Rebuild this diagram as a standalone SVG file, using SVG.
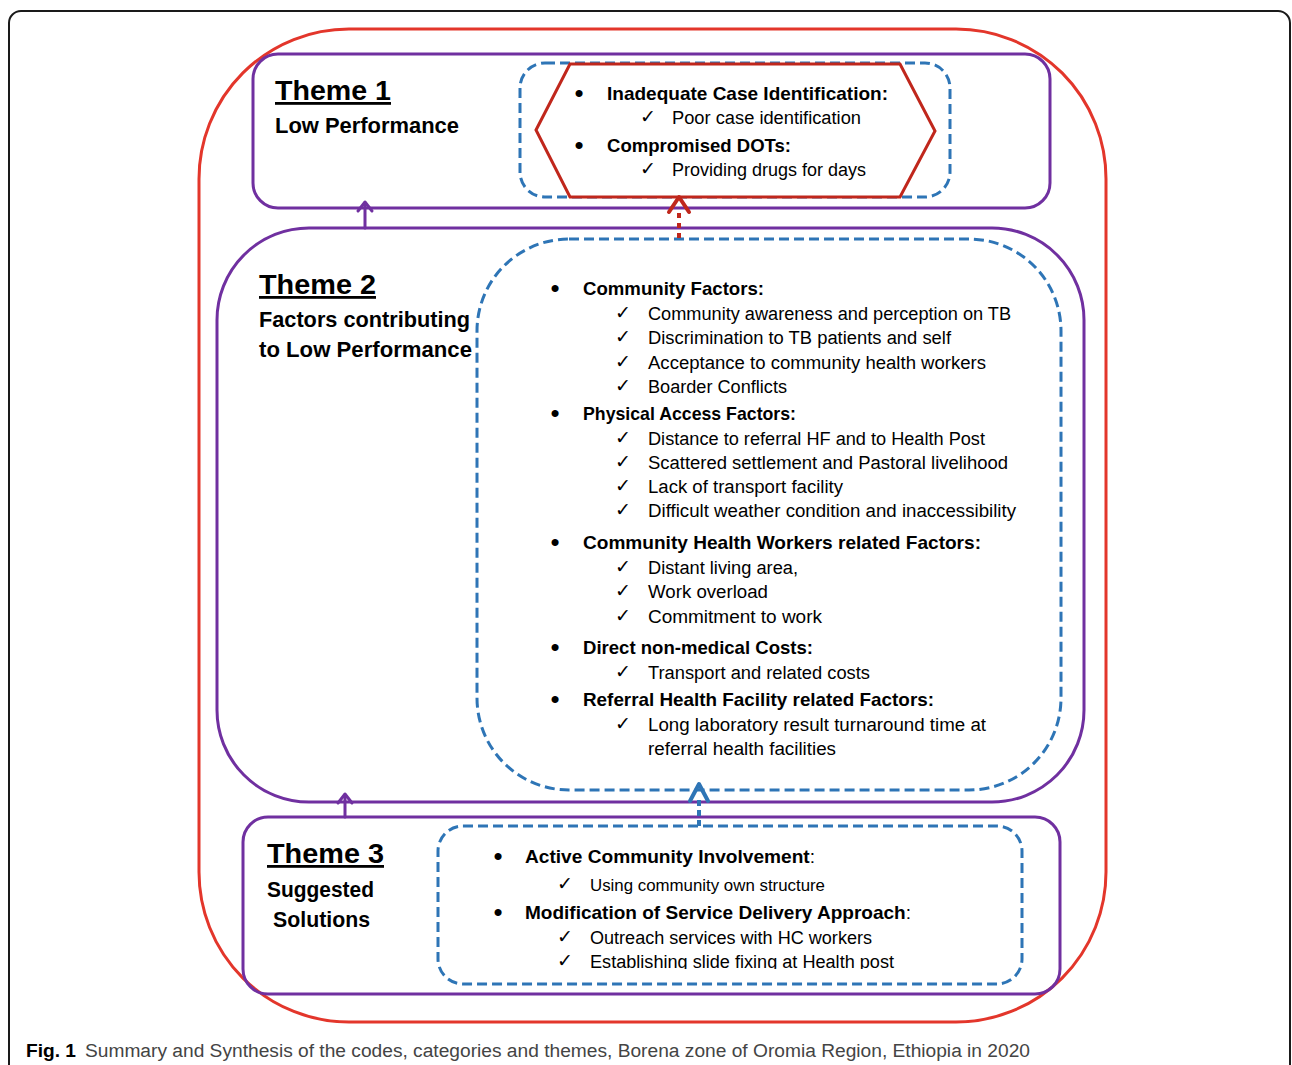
<svg xmlns="http://www.w3.org/2000/svg" width="1292" height="1065" viewBox="0 0 1292 1065">
<style>
.b{font-family:"Liberation Sans",Arial,sans-serif;font-weight:bold;fill:#000}
.r{font-family:"Liberation Sans",Arial,sans-serif;fill:#000}
.ttl{font-size:28px;text-decoration:underline}
.sub{font-size:22px}
.h{font-size:19px}
.i{font-size:18px}
.s{font-size:16.5px}
.ck{font-family:"DejaVu Sans",sans-serif;font-size:19px;fill:#000}
.bl{font-family:"Liberation Sans",Arial,sans-serif;font-size:26px;text-anchor:middle;fill:#000}
.pur{fill:none;stroke:#7030A0;stroke-width:3}
.blu{fill:none;stroke:#2E75B6;stroke-width:3;stroke-dasharray:10 5}
.cap{font-family:"Liberation Sans",Arial,sans-serif;font-size:18px;fill:#444}
</style>
<defs>
<clipPath id="clipT3"><rect x="0" y="0" width="1292" height="969"/></clipPath>
</defs>
<rect width="1292" height="1065" fill="#fff"/>
<rect x="9" y="11" width="1281" height="1100" rx="12" fill="none" stroke="#1a1a1a" stroke-width="2"/>
<g id="outer">
<rect x="199" y="29" width="907" height="993" rx="150" fill="none" stroke="#E3362B" stroke-width="3"/>
</g>
<g id="theme1">
<rect class="pur" x="253" y="54" width="797" height="154" rx="25"/>
<text class="b ttl" x="275" y="100" textLength="116" lengthAdjust="spacingAndGlyphs">Theme 1</text>
<text class="b sub" x="275" y="133" textLength="184" lengthAdjust="spacingAndGlyphs">Low Performance</text>
</g>
<g id="theme1-items">
<rect class="blu" x="520" y="63" width="430" height="134" rx="25"/>
<polygon points="536,130 570,64 900,64 935,131 900,197 570,197" fill="#fff" stroke="#C0271C" stroke-width="3"/>
<text class="bl" x="579" y="102">•</text>
<text class="b h" x="607" y="100" textLength="281" lengthAdjust="spacingAndGlyphs">Inadequate Case Identification:</text>
<text class="ck" x="640" y="123">✓</text>
<text class="r i" x="672" y="124" textLength="189" lengthAdjust="spacingAndGlyphs">Poor case identification</text>
<text class="bl" x="579" y="154">•</text>
<text class="b h" x="607" y="152" textLength="184" lengthAdjust="spacingAndGlyphs">Compromised DOTs:</text>
<text class="ck" x="640" y="175">✓</text>
<text class="r i" x="672" y="176" textLength="194" lengthAdjust="spacingAndGlyphs">Providing drugs for days</text>
</g>
<g id="theme2">
<rect class="pur" x="217" y="228" width="867" height="574" rx="92"/>
<text class="b ttl" x="259" y="294" textLength="117" lengthAdjust="spacingAndGlyphs">Theme 2</text>
<text class="b sub" x="259" y="327" textLength="211" lengthAdjust="spacingAndGlyphs">Factors contributing</text>
<text class="b sub" x="259" y="357" textLength="213" lengthAdjust="spacingAndGlyphs">to Low Performance</text>
</g>
<g id="theme2-items">
<rect class="blu" x="477" y="239" width="584" height="551" rx="92"/>
<text class="bl" x="555" y="297">•</text>
<text class="b h" x="583" y="295" textLength="181" lengthAdjust="spacingAndGlyphs">Community Factors:</text>
<text class="ck" x="615" y="319">✓</text>
<text class="r i" x="648" y="320" textLength="363" lengthAdjust="spacingAndGlyphs">Community awareness and perception on TB</text>
<text class="ck" x="615" y="343">✓</text>
<text class="r i" x="648" y="344" textLength="303" lengthAdjust="spacingAndGlyphs">Discrimination to TB patients and self</text>
<text class="ck" x="615" y="368">✓</text>
<text class="r i" x="648" y="369" textLength="338" lengthAdjust="spacingAndGlyphs">Acceptance to community health workers</text>
<text class="ck" x="615" y="392">✓</text>
<text class="r i" x="648" y="393" textLength="139" lengthAdjust="spacingAndGlyphs">Boarder Conflicts</text>
<text class="bl" x="555" y="422">•</text>
<text class="b h" x="583" y="420" textLength="213" lengthAdjust="spacingAndGlyphs">Physical Access Factors:</text>
<text class="ck" x="615" y="444">✓</text>
<text class="r i" x="648" y="445" textLength="337" lengthAdjust="spacingAndGlyphs">Distance to referral HF and to Health Post</text>
<text class="ck" x="615" y="468">✓</text>
<text class="r i" x="648" y="469" textLength="360" lengthAdjust="spacingAndGlyphs">Scattered settlement and Pastoral livelihood</text>
<text class="ck" x="615" y="492">✓</text>
<text class="r i" x="648" y="493" textLength="195" lengthAdjust="spacingAndGlyphs">Lack of transport facility</text>
<text class="ck" x="615" y="516">✓</text>
<text class="r i" x="648" y="517" textLength="368" lengthAdjust="spacingAndGlyphs">Difficult weather condition and inaccessibility</text>
<text class="bl" x="555" y="551">•</text>
<text class="b h" x="583" y="549" textLength="398" lengthAdjust="spacingAndGlyphs">Community Health Workers related Factors:</text>
<text class="ck" x="615" y="573">✓</text>
<text class="r i" x="648" y="574" textLength="150" lengthAdjust="spacingAndGlyphs">Distant living area,</text>
<text class="ck" x="615" y="597">✓</text>
<text class="r i" x="648" y="598" textLength="120" lengthAdjust="spacingAndGlyphs">Work overload</text>
<text class="ck" x="615" y="622">✓</text>
<text class="r i" x="648" y="623" textLength="174" lengthAdjust="spacingAndGlyphs">Commitment to work</text>
<text class="bl" x="555" y="656">•</text>
<text class="b h" x="583" y="654" textLength="230" lengthAdjust="spacingAndGlyphs">Direct non-medical Costs:</text>
<text class="ck" x="615" y="678">✓</text>
<text class="r i" x="648" y="679" textLength="222" lengthAdjust="spacingAndGlyphs">Transport and related costs</text>
<text class="bl" x="555" y="708">•</text>
<text class="b h" x="583" y="706" textLength="351" lengthAdjust="spacingAndGlyphs">Referral Health Facility related Factors:</text>
<text class="ck" x="615" y="730">✓</text>
<text class="r i" x="648" y="731" textLength="338" lengthAdjust="spacingAndGlyphs">Long laboratory result turnaround time at</text>
<text class="r i" x="648" y="755" textLength="188" lengthAdjust="spacingAndGlyphs">referral health facilities</text>
</g>
<g id="theme3">
<rect class="pur" x="243" y="817" width="817" height="177" rx="25"/>
<text class="b ttl" x="267" y="863" textLength="117" lengthAdjust="spacingAndGlyphs">Theme 3</text>
<text class="b sub" x="267" y="897" textLength="107" lengthAdjust="spacingAndGlyphs">Suggested</text>
<text class="b sub" x="273" y="927" textLength="97" lengthAdjust="spacingAndGlyphs">Solutions</text>
</g>
<g id="theme3-items">
<rect class="blu" x="438" y="826" width="584" height="158" rx="25"/>
<text class="bl" x="498" y="865">•</text>
<text class="b h" x="525" y="863" textLength="290" lengthAdjust="spacingAndGlyphs">Active Community Involvement<tspan font-weight="normal">:</tspan></text>
<text class="ck" x="557" y="890" font-size="17">✓</text>
<text class="r s" x="590" y="891" textLength="235" lengthAdjust="spacingAndGlyphs">Using community own structure</text>
<text class="bl" x="498" y="921">•</text>
<text class="b h" x="525" y="919" textLength="386" lengthAdjust="spacingAndGlyphs">Modification of Service Delivery Approach<tspan font-weight="normal">:</tspan></text>
<text class="ck" x="557" y="943">✓</text>
<text class="r i" x="590" y="944" textLength="282" lengthAdjust="spacingAndGlyphs">Outreach services with HC workers</text>
<g clip-path="url(#clipT3)">
<text class="ck" x="557" y="967">✓</text>
<text class="r i" x="590" y="968" textLength="304" lengthAdjust="spacingAndGlyphs">Establishing slide fixing at Health post</text>
</g>
</g>
<g id="connectors" fill="none" stroke-linecap="round" stroke-linejoin="round">
<line x1="365" y1="228" x2="365" y2="203" stroke="#7030A0" stroke-width="3"/>
<polyline points="358,211 365,202 372,211" stroke="#7030A0" stroke-width="3"/>
<line x1="345" y1="817" x2="345" y2="795" stroke="#7030A0" stroke-width="3"/>
<polyline points="338,803 345,794 352,803" stroke="#7030A0" stroke-width="3"/>
<line x1="679" y1="238" x2="679" y2="210" stroke="#C0271C" stroke-width="4" stroke-dasharray="5 5" stroke-linecap="butt"/>
<polyline points="669,212 679,197 689,212" stroke="#C0271C" stroke-width="4"/>
<line x1="699" y1="826" x2="699" y2="800" stroke="#2E75B6" stroke-width="4" stroke-dasharray="6 4" stroke-linecap="butt"/>
<polyline points="690,801 699,784 708,801" stroke="#2E75B6" stroke-width="4"/>
</g>
<g id="caption">
<text class="b" x="26" y="1057" font-size="19" fill="#222" textLength="50" lengthAdjust="spacingAndGlyphs">Fig. 1</text>
<text class="cap" x="85" y="1057" textLength="945" lengthAdjust="spacingAndGlyphs">Summary and Synthesis of the codes, categories and themes, Borena zone of Oromia Region, Ethiopia in 2020</text>
</g>
</svg>
